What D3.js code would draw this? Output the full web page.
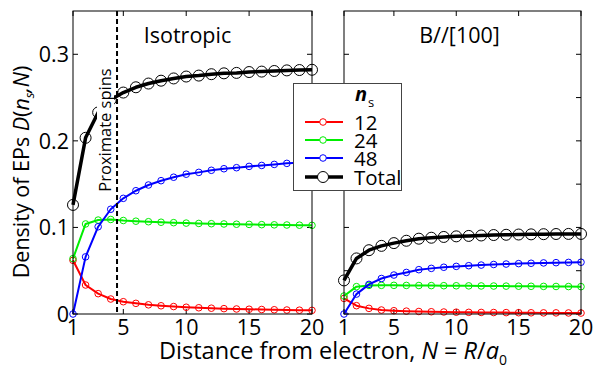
<!DOCTYPE html>
<html><head><meta charset="utf-8">
<script src="https://cdn.jsdelivr.net/npm/d3@7"></script>
<style>body{margin:0;background:#fff}svg{display:block}text{font-family:"Open Sans",sans-serif}</style>
</head><body><svg id="c" width="593" height="368"></svg>
<script>
const N = d3.range(1, 21);
// Isotropic panel
const iso12 = [0.062,0.0335,0.0235,0.0173,0.0142,0.0123,0.0106,0.0095,0.0086,0.0078,0.0072,0.0067,0.0062,0.0058,0.0055,0.0052,0.0049,0.0046,0.0044,0.0042];
const iso24 = [0.064,0.104,0.1085,0.1092,0.108,0.1072,0.1066,0.106,0.1055,0.105,0.1046,0.1043,0.104,0.1037,0.1035,0.1032,0.103,0.1028,0.1026,0.1024];
const iso48 = [0.0,0.066,0.1008,0.121,0.1336,0.1424,0.149,0.154,0.158,0.1615,0.1636,0.166,0.1678,0.169,0.1705,0.1716,0.1728,0.174,0.1748,0.1755];
const isoTot = [0.126,0.2035,0.2328,0.2475,0.2558,0.2619,0.2662,0.2695,0.2721,0.2743,0.2754,0.277,0.278,0.2785,0.2795,0.28,0.2807,0.2814,0.2818,0.2821];
// B//[100] panel
const b12 = [0.018,0.0096,0.0065,0.0046,0.0038,0.0033,0.0029,0.0026,0.0023,0.0021,0.0019,0.0018,0.0017,0.0016,0.0015,0.0014,0.0013,0.0013,0.0012,0.0011];
const b24 = [0.0208,0.0316,0.033,0.0331,0.0331,0.033,0.0329,0.0328,0.0327,0.0326,0.0325,0.0324,0.0323,0.0322,0.0321,0.032,0.0319,0.0318,0.0317,0.0316];
const b48 = [0.0,0.023,0.0342,0.041,0.045,0.048,0.0512,0.0527,0.054,0.055,0.0558,0.0565,0.0572,0.0577,0.0582,0.0586,0.059,0.0593,0.0596,0.0598];
const bTot = [0.0388,0.0642,0.0737,0.0787,0.0819,0.0846,0.087,0.0881,0.089,0.0897,0.0902,0.0907,0.0912,0.0915,0.0918,0.092,0.0922,0.0924,0.0925,0.0925];
const xTicks = [1,5,10,15,20];
const yTicksIso = [0,0.1,0.2,0.3];
const yTicksB = [0,0.05,0.1,0.15,0.2,0.25,0.3];
const legendLabels = ["12","24","48","Total"];
const colors = ["#ff0000","#00ee00","#0000ff","#000000"];
const proxN = 4.5;

const svg = d3.select("#c");
const yTop = 11, yBot = 314;
const y = d3.scaleLinear().domain([0,0.35]).range([yBot,yTop]);

function panel(x0, x1, series, yTicks, title, labels, breakTotal){
  const x = d3.scaleLinear().domain([1,20]).range([x0,x1]);
  const g = svg.append("g");
  const tl = 5;
  xTicks.forEach(t=>{
    g.append("line").attr("x1",x(t)).attr("x2",x(t)).attr("y1",yBot).attr("y2",yBot-tl).attr("stroke","#000");
    g.append("line").attr("x1",x(t)).attr("x2",x(t)).attr("y1",yTop).attr("y2",yTop+tl).attr("stroke","#000");
    g.append("text").attr("x",x(t)).attr("y",yBot+21).attr("text-anchor","middle").attr("font-size",21.5).text(t);
  });
  yTicks.forEach(t=>{
    g.append("line").attr("x1",x0).attr("x2",x0+tl).attr("y1",y(t)).attr("y2",y(t)).attr("stroke","#000");
    g.append("line").attr("x1",x1).attr("x2",x1-tl).attr("y1",y(t)).attr("y2",y(t)).attr("stroke","#000");
    if(labels) g.append("text").attr("x",x0-4).attr("y",y(t)).attr("dy","0.36em").attr("text-anchor","end").attr("font-size",21.5).text(t===0?"0":t.toFixed(1));
  });
  g.append("text").attr("x",(x0+x1)/2 + (labels?-5:-3)).attr("y",43).attr("text-anchor","middle").attr("font-size",21.5).text(title);
  const dg = g.append("g");
  series.forEach((s,i)=>{
    const isTot = i===3;
    const line = d3.line().x((d,j)=>x(N[j])).y(d=>y(d));
    dg.append("path").attr("d",line(s)).attr("fill","none").attr("stroke",colors[i]).attr("stroke-width",isTot?3.5:2).attr("stroke-linejoin","round");
    dg.selectAll(null).data(s).join("circle").attr("cx",(d,j)=>x(N[j])).attr("cy",d=>y(d)).attr("r",isTot?5.5:3.3)
      .attr("fill","none").attr("stroke",colors[i]).attr("stroke-width",1);
  });
  if(breakTotal){
    const cx = 105, cy = 130;
    g.append("rect").attr("x",cx-8).attr("y",cy-64).attr("width",17).attr("height",128).attr("fill","#fff");
    g.append("text").attr("transform",`translate(${cx+6},${cy}) rotate(-90)`).attr("text-anchor","middle").attr("font-size",16.5).text("Proximate spins");
    g.append("line").attr("x1",x(proxN)).attr("x2",x(proxN)).attr("y1",yTop).attr("y2",yBot).attr("stroke","#000").attr("stroke-width",2).attr("stroke-dasharray","5,3");
  }
  g.append("rect").attr("x",x0).attr("y",yTop).attr("width",x1-x0).attr("height",yBot-yTop).attr("fill","none").attr("stroke","#000").attr("stroke-width",1);
  return x;
}

panel(73,312,[iso12,iso24,iso48,isoTot],yTicksIso,"Isotropic",true,true);
panel(344,581,[b12,b24,b48,bTot],yTicksB,"B//[100]",false,false);

// legend
const lg = svg.append("g");
const rowY = [122,140,158,177];
lg.append("rect").attr("x",293.5).attr("y",83.5).attr("width",108).attr("height",107).attr("fill","#fff").attr("stroke","#444").attr("stroke-width",1);
const nt = lg.append("text").attr("x",355).attr("y",101).attr("font-size",20);
nt.append("tspan").attr("font-weight","bold").attr("font-style","italic").text("n");
nt.append("tspan").attr("font-size",13).attr("dy",6).attr("dx",1).text("s");
legendLabels.forEach((l,i)=>{
  const yy = rowY[i];
  lg.append("line").attr("x1",305).attr("x2",343).attr("y1",yy).attr("y2",yy).attr("stroke",colors[i]).attr("stroke-width",i===3?3.5:2);
  lg.append("circle").attr("cx",323).attr("cy",yy).attr("r",i===3?5.5:3.3).attr("fill","#fff").attr("stroke",colors[i]).attr("stroke-width",1);
});
const lt = lg.append("text").attr("font-size",20.5);
legendLabels.forEach((l,i)=>{
  lt.append("tspan").attr("x",354).attr("y",rowY[i]+7.5).text(l);
});

// axis labels
const xl = svg.append("text").attr("x",333).attr("y",359).attr("text-anchor","middle").attr("font-size",23.5);
xl.append("tspan").text("Distance from electron, ");
xl.append("tspan").attr("font-style","italic").text("N");
xl.append("tspan").text(" = ");
xl.append("tspan").attr("font-style","italic").text("R");
xl.append("tspan").text("/");
xl.append("tspan").attr("font-style","italic").text("a");
xl.append("tspan").attr("font-size",14).attr("dy",6).text("0");

const yl = svg.append("text").attr("transform","translate(29,172) rotate(-90)").attr("text-anchor","middle").attr("font-size",21.5);
yl.append("tspan").text("Density of EPs ");
yl.append("tspan").attr("font-style","italic").text("D");
yl.append("tspan").text("(");
yl.append("tspan").attr("font-style","italic").text("n");
yl.append("tspan").attr("font-style","italic").attr("font-size",13).attr("dy",5).text("s");
yl.append("tspan").attr("dy",-5).attr("font-style","italic").text(",N");
yl.append("tspan").text(")");
</script></body></html>
